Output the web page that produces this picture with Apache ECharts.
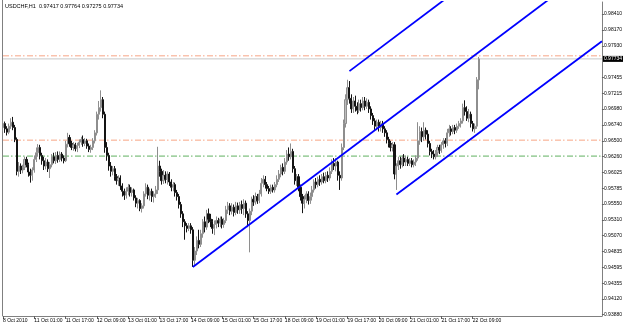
<!DOCTYPE html>
<html>
<head>
<meta charset="utf-8">
<title>USDCHF,H1</title>
<script src="https://cdn.jsdelivr.net/npm/echarts@6/dist/echarts.min.js"></script>
<style>
    html, body { margin: 0; padding: 0; background: #fff; }
    #chart { width: 625px; height: 326px; }
</style>
</head>
<body>
<div id="chart"></div>
<script>
// =================================================================================
// Hourly candles, one array per trading day: [open, close, low, high]
var oct08 = [
    [0.9670,0.9676,0.9664,0.9681],[0.9676,0.9668,0.9662,0.9679],[0.9668,0.9663,0.9658,0.9672],
    [0.9663,0.9672,0.9660,0.9676],[0.9672,0.9678,0.9668,0.9684],[0.9678,0.9670,0.9666,0.9686],
    [0.9670,0.9652,0.9648,0.9674],[0.9652,0.9604,0.9598,0.9655],[0.9604,0.9612,0.9596,0.9618],
    [0.9612,0.9606,0.9600,0.9616],[0.9606,0.9610,0.9601,0.9614],[0.9610,0.9622,0.9606,0.9626],
    [0.9622,0.9614,0.9610,0.9626],[0.9614,0.9603,0.9596,0.9617],[0.9603,0.9598,0.9587,0.9608]
];
var oct11 = [
    [0.9598,0.9606,0.9590,0.9610],[0.9606,0.9622,0.9602,0.9628],[0.9622,0.9632,0.9618,0.9640],
    [0.9632,0.9640,0.9626,0.9645],[0.9640,0.9628,0.9622,0.9644],[0.9628,0.9620,0.9614,0.9632],
    [0.9620,0.9612,0.9606,0.9626],[0.9612,0.9618,0.9607,0.9624],[0.9618,0.9608,0.9603,0.9622],
    [0.9608,0.9614,0.9594,0.9618],[0.9614,0.9626,0.9610,0.9630],[0.9626,0.9620,0.9616,0.9632],
    [0.9620,0.9628,0.9615,0.9633],[0.9628,0.9622,0.9617,0.9634],[0.9622,0.9630,0.9618,0.9634],
    [0.9630,0.9624,0.9619,0.9633],[0.9624,0.9620,0.9616,0.9628],[0.9620,0.9645,0.9618,0.9650],
    [0.9645,0.9655,0.9640,0.9662],[0.9655,0.9646,0.9641,0.9659],[0.9646,0.9640,0.9636,0.9650],
    [0.9640,0.9644,0.9635,0.9648],[0.9644,0.9638,0.9634,0.9647],[0.9638,0.9643,0.9633,0.9647]
];
var oct12 = [
    [0.9643,0.9648,0.9639,0.9652],[0.9648,0.9652,0.9644,0.9656],[0.9652,0.9646,0.9641,0.9658],
    [0.9646,0.9650,0.9642,0.9654],[0.9650,0.9642,0.9638,0.9653],[0.9642,0.9637,0.9633,0.9646],
    [0.9637,0.9640,0.9632,0.9644],[0.9640,0.9650,0.9636,0.9654],[0.9650,0.9662,0.9646,0.9666],
    [0.9662,0.9690,0.9658,0.9694],[0.9690,0.9700,0.9682,0.9710],[0.9700,0.9712,0.9694,0.9726],
    [0.9712,0.9690,0.9684,0.9716],[0.9690,0.9640,0.9632,0.9694],[0.9640,0.9628,0.9620,0.9648],
    [0.9628,0.9612,0.9605,0.9632],[0.9612,0.9604,0.9596,0.9618],[0.9604,0.9608,0.9598,0.9612],
    [0.9608,0.9596,0.9590,0.9612],[0.9596,0.9590,0.9584,0.9600],[0.9590,0.9594,0.9582,0.9598],
    [0.9594,0.9582,0.9576,0.9598],[0.9582,0.9574,0.9566,0.9586],[0.9574,0.9568,0.9561,0.9578]
];
var oct13 = [
    [0.9568,0.9574,0.9563,0.9580],[0.9574,0.9580,0.9568,0.9585],[0.9580,0.9572,0.9566,0.9584],
    [0.9572,0.9576,0.9566,0.9580],[0.9576,0.9564,0.9560,0.9578],[0.9564,0.9556,0.9550,0.9568],
    [0.9556,0.9560,0.9548,0.9564],[0.9560,0.9548,0.9544,0.9562],[0.9548,0.9552,0.9542,0.9556],
    [0.9552,0.9570,0.9548,0.9574],[0.9570,0.9580,0.9566,0.9586],[0.9580,0.9568,0.9562,0.9584],
    [0.9568,0.9574,0.9560,0.9578],[0.9574,0.9566,0.9558,0.9578],[0.9566,0.9570,0.9557,0.9574],
    [0.9570,0.9576,0.9564,0.9582],[0.9576,0.9612,0.9570,0.9641],[0.9612,0.9604,0.9596,0.9620],
    [0.9604,0.9590,0.9584,0.9608],[0.9590,0.9598,0.9585,0.9606],[0.9598,0.9592,0.9586,0.9604],
    [0.9592,0.9600,0.9584,0.9604],[0.9600,0.9588,0.9582,0.9603],[0.9588,0.9580,0.9574,0.9592]
];
var oct14 = [
    [0.9580,0.9584,0.9574,0.9588],[0.9584,0.9572,0.9566,0.9587],[0.9572,0.9566,0.9560,0.9576],
    [0.9566,0.9554,0.9548,0.9570],[0.9554,0.9540,0.9534,0.9558],[0.9540,0.9528,0.9520,0.9544],
    [0.9528,0.9522,0.9501,0.9532],[0.9522,0.9518,0.9512,0.9526],[0.9518,0.9522,0.9514,0.9526],
    [0.9522,0.9516,0.9510,0.9526],[0.9516,0.9470,0.9460,0.9520],[0.9470,0.9484,0.9462,0.9490],
    [0.9484,0.9500,0.9478,0.9506],[0.9500,0.9494,0.9488,0.9516],[0.9494,0.9510,0.9490,0.9516],
    [0.9510,0.9528,0.9504,0.9532],[0.9528,0.9520,0.9512,0.9536],[0.9520,0.9540,0.9516,0.9546],
    [0.9540,0.9532,0.9526,0.9548],[0.9532,0.9528,0.9520,0.9540],[0.9528,0.9518,0.9510,0.9532],
    [0.9518,0.9524,0.9508,0.9530],[0.9524,0.9530,0.9518,0.9536],[0.9530,0.9526,0.9520,0.9534]
];
var oct15 = [
    [0.9526,0.9532,0.9520,0.9536],[0.9532,0.9524,0.9518,0.9536],[0.9524,0.9530,0.9519,0.9534],
    [0.9530,0.9546,0.9526,0.9552],[0.9546,0.9552,0.9540,0.9558],[0.9552,0.9544,0.9538,0.9556],
    [0.9544,0.9550,0.9539,0.9556],[0.9550,0.9542,0.9536,0.9554],[0.9542,0.9552,0.9538,0.9558],
    [0.9552,0.9546,0.9540,0.9557],[0.9546,0.9554,0.9540,0.9558],[0.9554,0.9548,0.9540,0.9560],
    [0.9548,0.9556,0.9538,0.9562],[0.9556,0.9540,0.9534,0.9560],[0.9540,0.9530,0.9520,0.9544],
    [0.9530,0.9544,0.9482,0.9548],[0.9544,0.9562,0.9538,0.9566],[0.9562,0.9558,0.9552,0.9568],
    [0.9558,0.9566,0.9554,0.9572],[0.9566,0.9560,0.9555,0.9570],[0.9560,0.9570,0.9556,0.9576],
    [0.9570,0.9586,0.9566,0.9594],[0.9586,0.9592,0.9580,0.9598],[0.9592,0.9584,0.9578,0.9597]
];
var oct18 = [
    [0.9584,0.9578,0.9574,0.9588],[0.9578,0.9574,0.9570,0.9582],[0.9574,0.9580,0.9570,0.9584],
    [0.9580,0.9576,0.9572,0.9584],[0.9576,0.9584,0.9572,0.9588],[0.9584,0.9592,0.9580,0.9598],
    [0.9592,0.9600,0.9588,0.9606],[0.9600,0.9610,0.9595,0.9614],[0.9610,0.9604,0.9598,0.9616],
    [0.9604,0.9618,0.9600,0.9624],[0.9618,0.9630,0.9614,0.9636],[0.9630,0.9626,0.9620,0.9640],
    [0.9626,0.9634,0.9622,0.9646],[0.9634,0.9608,0.9602,0.9638],[0.9608,0.9590,0.9584,0.9612],
    [0.9590,0.9596,0.9582,0.9600],[0.9596,0.9580,0.9574,0.9600],[0.9580,0.9566,0.9560,0.9584],
    [0.9566,0.9556,0.9541,0.9570],[0.9556,0.9562,0.9548,0.9568],[0.9562,0.9570,0.9556,0.9574],
    [0.9570,0.9560,0.9554,0.9574],[0.9560,0.9566,0.9555,0.9572],[0.9566,0.9576,0.9560,0.9582]
];
var oct19 = [
    [0.9576,0.9588,0.9572,0.9592],[0.9588,0.9584,0.9578,0.9594],[0.9584,0.9592,0.9580,0.9596],
    [0.9592,0.9588,0.9582,0.9598],[0.9588,0.9596,0.9584,0.9600],[0.9596,0.9590,0.9586,0.9602],
    [0.9590,0.9598,0.9586,0.9603],[0.9598,0.9594,0.9588,0.9604],[0.9594,0.9604,0.9590,0.9610],
    [0.9604,0.9616,0.9600,0.9622],[0.9616,0.9612,0.9606,0.9624],[0.9612,0.9618,0.9604,0.9624],
    [0.9618,0.9598,0.9590,0.9620],[0.9598,0.9594,0.9576,0.9604],[0.9594,0.9640,0.9590,0.9646],
    [0.9640,0.9676,0.9636,0.9682],[0.9676,0.9712,0.9670,0.9720],[0.9712,0.9730,0.9704,0.9742],
    [0.9730,0.9714,0.9706,0.9740],[0.9714,0.9698,0.9692,0.9720],[0.9698,0.9710,0.9692,0.9716],
    [0.9710,0.9702,0.9694,0.9718],[0.9702,0.9696,0.9690,0.9708],[0.9696,0.9706,0.9692,0.9712]
];
var oct20 = [
    [0.9706,0.9700,0.9694,0.9712],[0.9700,0.9710,0.9696,0.9716],[0.9710,0.9702,0.9696,0.9716],
    [0.9702,0.9708,0.9698,0.9714],[0.9708,0.9698,0.9692,0.9712],[0.9698,0.9688,0.9682,0.9702],
    [0.9688,0.9680,0.9674,0.9692],[0.9680,0.9672,0.9666,0.9684],[0.9672,0.9678,0.9666,0.9682],
    [0.9678,0.9670,0.9664,0.9682],[0.9670,0.9676,0.9664,0.9680],[0.9676,0.9668,0.9662,0.9680],
    [0.9668,0.9662,0.9656,0.9672],[0.9662,0.9652,0.9646,0.9666],[0.9652,0.9646,0.9640,0.9656],
    [0.9646,0.9640,0.9634,0.9650],[0.9640,0.9644,0.9634,0.9648],[0.9644,0.9600,0.9592,0.9648],
    [0.9600,0.9612,0.9576,0.9616],[0.9612,0.9620,0.9606,0.9626],[0.9620,0.9614,0.9608,0.9626],
    [0.9614,0.9624,0.9610,0.9628],[0.9624,0.9618,0.9612,0.9630],[0.9618,0.9622,0.9612,0.9628]
];
var oct21 = [
    [0.9622,0.9616,0.9612,0.9626],[0.9616,0.9620,0.9612,0.9624],[0.9620,0.9614,0.9610,0.9624],
    [0.9614,0.9618,0.9610,0.9622],[0.9618,0.9624,0.9612,0.9628],[0.9624,0.9650,0.9620,0.9678],
    [0.9650,0.9664,0.9644,0.9672],[0.9664,0.9656,0.9648,0.9670],[0.9656,0.9666,0.9650,0.9678],
    [0.9666,0.9660,0.9652,0.9670],[0.9660,0.9646,0.9640,0.9666],[0.9646,0.9634,0.9628,0.9650],
    [0.9634,0.9630,0.9624,0.9638],[0.9630,0.9626,0.9622,0.9636],[0.9626,0.9632,0.9622,0.9636],
    [0.9632,0.9640,0.9626,0.9644],[0.9640,0.9636,0.9630,0.9644],[0.9636,0.9644,0.9632,0.9648],
    [0.9644,0.9650,0.9638,0.9654],[0.9650,0.9646,0.9640,0.9654],[0.9646,0.9662,0.9642,0.9668],
    [0.9662,0.9668,0.9656,0.9674],[0.9668,0.9664,0.9658,0.9672],[0.9664,0.9670,0.9660,0.9674]
];
var oct22 = [
    [0.9670,0.9666,0.9660,0.9674],[0.9666,0.9672,0.9662,0.9676],[0.9672,0.9676,0.9668,0.9680],
    [0.9676,0.9680,0.9670,0.9684],[0.9680,0.9700,0.9676,0.9706],[0.9700,0.9694,0.9688,0.9711],
    [0.9694,0.9684,0.9680,0.9702],[0.9684,0.9690,0.9678,0.9698],[0.9690,0.9676,0.9670,0.9694],
    [0.9676,0.9668,0.9664,0.9680],[0.9668,0.9672,0.9662,0.9676],[0.9672,0.9742,0.9668,0.9746],
    [0.97417,0.97734,0.97275,0.97764]
];

var dayNames = ['8 Oct', '11 Oct', '12 Oct', '13 Oct', '14 Oct', '15 Oct', '18 Oct', '19 Oct', '20 Oct', '21 Oct', '22 Oct'];
var dayStartHour = [9, 0, 0, 0, 0, 0, 0, 0, 0, 0, 0];
var dayBars = [oct08, oct11, oct12, oct13, oct14, oct15, oct18, oct19, oct20, oct21, oct22];
var firstTickLabel = '8 Oct 2010';
var totalSlots = 307;   // bars plus empty room on the right

// price axis labels (MT4 style, uneven steps)
var priceTicks = [0.98410, 0.98170, 0.97930, 0.97455, 0.97215, 0.96980, 0.96740, 0.96500, 0.96260,
    0.96025, 0.95785, 0.95550, 0.95310, 0.95070, 0.94835, 0.94595, 0.94355, 0.94120, 0.93880];
var priceMin = 0.93861, priceMax = 0.98591;

// horizontal levels and channel lines [barIndex, price]
var bidPrice = 0.97734;
var orangeLevels = [0.9778, 0.9651];
var greenLevels = [0.9627];
var channelLines = [
    [[97, 0.9460], [306, 0.9923]],
    [[177, 0.9755], [306, 1.0041]],
    [[201, 0.9569], [306, 0.9800]]
];
var titleText = 'USDCHF,H1  0.97417 0.97764 0.97275 0.97734';

// =================================================================================
// build categories + candle list
var categories = [], candles = [];
function pad(n) { return n < 10 ? '0' + n : '' + n; }
for (var d = 0; d < dayBars.length; d++) {
    for (var j = 0; j < dayBars[d].length; j++) {
        categories.push(dayNames[d] + ' ' + pad(dayStartHour[d] + j) + ':00');
        candles.push(dayBars[d][j]);
    }
}
while (categories.length < totalSlots) {
    categories.push('');
}
var lastSlot = totalSlots - 1;

function isTick(idx) {
    return idx % 16 === 0 && idx < candles.length;
}

// horizontal level as a plain two-point line across the grid
function levelSeries(price, color, type, extra) {
    var s = {
        type: 'line',
        data: [[0, price], [lastSlot, price]],
        symbol: 'none',
        silent: true,
        lineStyle: { color: color, type: type, width: 1 },
        z: 1
    };
    if (extra) {
        for (var key in extra) s[key] = extra[key];
    }
    return s;
}

var dashDot = [6, 2, 1.5, 2.5];
var series = [];

series.push(levelSeries(bidPrice, '#c8c8c8', 'solid', {
    endLabel: {
        show: true, distance: 1,
        formatter: function () { return bidPrice.toFixed(5); },
        color: '#fff', backgroundColor: '#000',
        fontSize: 5, fontFamily: 'Liberation Sans',
        padding: [1, 1, 0, 1]
    }
}));
for (var i = 0; i < orangeLevels.length; i++) {
    series.push(levelSeries(orangeLevels[i], '#f7a585', dashDot));
}
for (var i = 0; i < greenLevels.length; i++) {
    series.push(levelSeries(greenLevels[i], '#5fb05f', dashDot));
}

series.push({
    name: 'USDCHF',
    type: 'candlestick',
    data: candles,
    barWidth: 1.6,
    z: 3,
    itemStyle: {
        color: '#bcbcbc',
        color0: '#141414',
        borderColor: '#8e8e8e',
        borderColor0: '#141414',
        borderWidth: 1
    }
});

for (var k = 0; k < channelLines.length; k++) {
    series.push({
        type: 'line',
        data: channelLines[k],
        symbol: 'none',
        clip: true,
        silent: true,
        lineStyle: { color: '#0000ff', width: 1.8 },
        z: 5
    });
}

var chart = echarts.init(document.getElementById('chart'));

var option = {
    animation: false,
    backgroundColor: '#fff',
    grid: { left: 2, right: 20, top: 2, bottom: 10 },
    graphic: [
        {
            type: 'line',
            shape: { x1: 2.5, y1: 0, x2: 2.5, y2: 316 },
            style: { stroke: '#808080', lineWidth: 1 }
        },
        {
            type: 'text',
            left: 5, top: 3,
            style: { text: titleText, fontSize: 5.5, fontFamily: 'Liberation Sans', fill: '#000' }
        }
    ],
    xAxis: {
        type: 'category',
        data: categories,
        boundaryGap: false,
        axisLine: { lineStyle: { color: '#808080', width: 1 } },
        axisTick: { show: true, interval: isTick, length: 3, lineStyle: { color: '#606060' } },
        axisLabel: {
            interval: isTick,
            align: 'left',
            margin: 2,
            fontSize: 5,
            fontFamily: 'Liberation Sans',
            color: '#000',
            formatter: function (value, idx) {
                return idx === 0 ? firstTickLabel : value;
            }
        },
        splitLine: { show: false }
    },
    yAxis: {
        type: 'value',
        position: 'right',
        min: priceMin,
        max: priceMax,
        scale: true,
        axisLine: { show: true, lineStyle: { color: '#808080', width: 1 } },
        axisTick: { show: true, customValues: priceTicks, length: 2, lineStyle: { color: '#606060' } },
        axisLabel: {
            customValues: priceTicks,
            margin: 2,
            fontSize: 5,
            fontFamily: 'Liberation Sans',
            color: '#000',
            formatter: function (v) { return v.toFixed(5); }
        },
        splitLine: { show: false }
    },
    series: series
};

chart.setOption(option);
</script>
</body>
</html>
